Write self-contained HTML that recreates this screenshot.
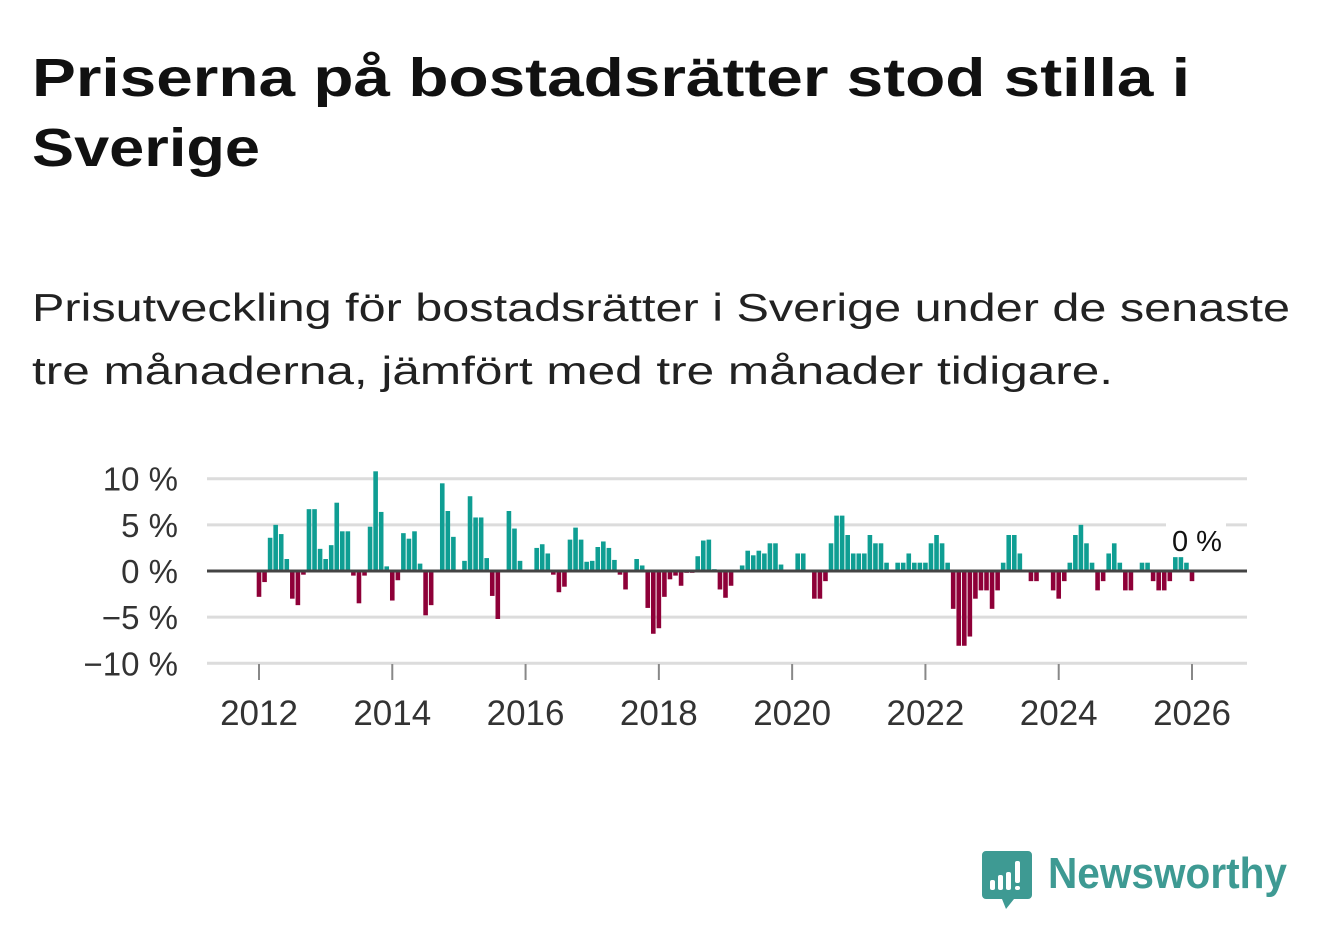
<!DOCTYPE html>
<html><head><meta charset="utf-8"><style>
html,body{margin:0;padding:0;background:#fff;}
svg{display:block;font-family:"Liberation Sans",sans-serif;}
</style></head><body>
<svg id="chart" width="1322" height="939" viewBox="0 0 1322 939">
<text x="32" y="96" font-size="54" font-weight="bold" fill="#111" textLength="1158" lengthAdjust="spacingAndGlyphs">Priserna på bostadsrätter stod stilla i</text>
<text x="32" y="166" font-size="54" font-weight="bold" fill="#111" textLength="228" lengthAdjust="spacingAndGlyphs">Sverige</text>
<text x="32" y="321" font-size="39" fill="#222" textLength="1258" lengthAdjust="spacingAndGlyphs">Prisutveckling för bostadsrätter i Sverige under de senaste</text>
<text x="32" y="384" font-size="39" fill="#222" textLength="1081" lengthAdjust="spacingAndGlyphs">tre månaderna, jämfört med tre månader tidigare.</text>
<g id="grid"></g>
<g id="bars"></g>
<g id="axes"></g>
<g>
<path d="M986 851 h42 a4 4 0 0 1 4 4 v40 a4 4 0 0 1 -4 4 h-14 l-8 10 l-4 -10 h-16 a4 4 0 0 1 -4 -4 v-40 a4 4 0 0 1 4 -4z" fill="#3e9a93"/>
<rect x="990" y="880" width="5" height="10" rx="2" fill="#fff"/>
<rect x="998" y="875" width="5" height="15" rx="2" fill="#fff"/>
<rect x="1006" y="872" width="5" height="18" rx="2" fill="#fff"/>
<rect x="1015" y="861" width="5" height="22" rx="2" fill="#fff"/>
<rect x="1015" y="886" width="5" height="4" rx="2" fill="#fff"/>
<text x="1048" y="888" font-size="44" font-weight="bold" fill="#3e9a93" textLength="239" lengthAdjust="spacingAndGlyphs">Newsworthy</text>
</g>
</svg>
<script>
const values = [-2.8,-1.2,3.6,5.0,4.0,1.3,-3.0,-3.7,-0.4,6.7,6.7,2.4,
1.3,2.8,7.4,4.3,4.3,-0.5,-3.5,-0.5,4.8,10.8,6.4,0.5,
-3.2,-1.0,4.1,3.5,4.3,0.8,-4.8,-3.7,0,9.5,6.5,3.7,
0,1.1,8.1,5.8,5.8,1.4,-2.7,-5.2,0,6.5,4.6,1.1,
0,0,2.5,2.9,1.9,-0.4,-2.3,-1.7,3.4,4.7,3.4,1.0,
1.1,2.6,3.2,2.5,1.2,-0.4,-2.0,0,1.3,0.6,-4.0,-6.8,
-6.2,-2.8,-0.9,-0.5,-1.6,-0.2,-0.2,1.6,3.3,3.4,0.2,-2.0,
-2.9,-1.6,0,0.6,2.2,1.7,2.2,1.9,3.0,3.0,0.7,0,
0,1.9,1.9,0,-3.0,-3.0,-1.1,3.0,6.0,6.0,3.9,1.9,
1.9,1.9,3.9,3.0,3.0,0.9,0,0.9,0.9,1.9,0.9,0.9,
0.9,3.0,3.9,3.0,0.9,-4.1,-8.1,-8.1,-7.1,-3.0,-2.1,-2.1,
-4.1,-2.1,0.9,3.9,3.9,1.9,0,-1.1,-1.1,0,0,-2.1,
-3.0,-1.1,0.9,3.9,5.0,3.0,0.9,-2.1,-1.1,1.9,3.0,0.9,
-2.1,-2.1,0,0.9,0.9,-1.1,-2.1,-2.1,-1.1,1.5,1.5,0.9,
-1.1];
const startYear = 2012;
const yTicks = [10,5,0,-5,-10];
const yTickLabels = ["10 %","5 %","0 %","\u22125 %","\u221210 %"];
const xTicks = [2012,2014,2016,2018,2020,2022,2024,2026];
const lastLabel = "0 %";

const NS = "http://www.w3.org/2000/svg";
const X0 = 207, X1 = 1247;
function xScale(t){ return 259 + (t - 2012) * (1192 - 259) / 14; }
function yScale(v){ return 571 - v * 9.23; }
function mk(tag, attrs, parent){ const e = document.createElementNS(NS, tag); for (const k in attrs) e.setAttribute(k, attrs[k]); parent.appendChild(e); return e; }

const grid = document.getElementById('grid');
const bars = document.getElementById('bars');
const axes = document.getElementById('axes');

yTicks.forEach((v,i)=>{
  if (v !== 0) {
    const l = mk('line',{x1:X0,x2:X1,y1:yScale(v),y2:yScale(v),stroke:'#dcdcdc','stroke-width':3},grid);
    
    
  }
  const t = mk('text',{x:178,y:yScale(v)+12,'font-size':33,'text-anchor':'end',fill:'#333'},axes);
  t.textContent = yTickLabels[i];
  
  
});

const bw = 4.6;
values.forEach((v,i)=>{
  if (v === 0) return;
  const x = xScale(startYear + i/12);
  const y0 = yScale(0), y1 = yScale(v);
  const r = mk('rect',{x:x-bw/2,y:Math.min(y0,y1),width:bw,height:Math.abs(y1-y0),fill:v>0?'#0f9e93':'#8e0038'},bars);
  
  
});

const zl = mk('line',{x1:X0,x2:X1,y1:yScale(0),y2:yScale(0),stroke:'#444','stroke-width':3},axes);



xTicks.forEach(yr=>{
  const x = xScale(yr);
  const tk = mk('line',{x1:x,x2:x,y1:664,y2:680,stroke:'#888','stroke-width':2},axes);
  
  
  const t = mk('text',{x:x,y:725,'font-size':35,'text-anchor':'middle',fill:'#333'},axes);
  t.textContent = String(yr);
  
  
});

const lx = xScale(startYear + (values.length-1)/12);
const bg = mk('rect',{x:lx-26,y:521,width:60,height:34,fill:'#fff'},axes);


const lt = mk('text',{x:lx+5,y:551,'font-size':29,'text-anchor':'middle',fill:'#111'},axes);
lt.textContent = lastLabel;


</script>
</body></html>
